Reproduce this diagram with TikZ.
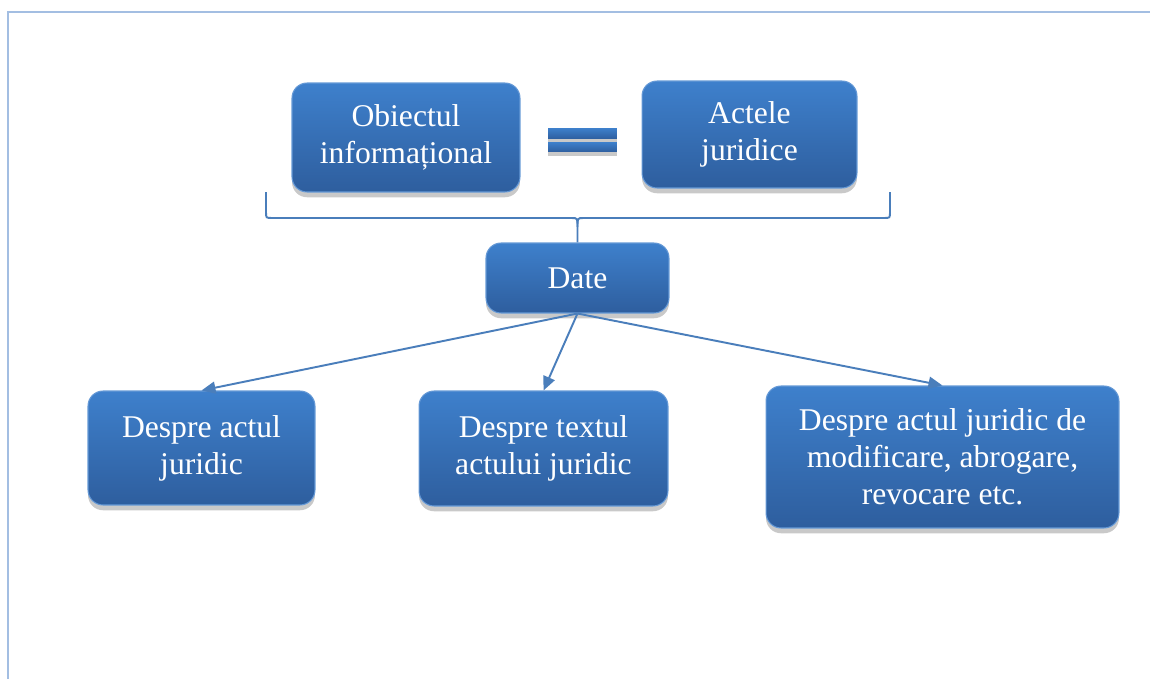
\documentclass[tikz,border=0pt]{standalone}
\usepackage{fontspec}
\setmainfont{Liberation Serif}
\usepackage{xcolor}
\usetikzlibrary{arrows.meta}
\usetikzlibrary{shadows}
\definecolor{boxtop}{HTML}{3E80CC}
\definecolor{boxbot}{HTML}{2E5E9E}
\definecolor{linkblue}{HTML}{4A7EBB}
\definecolor{framebl}{HTML}{A3BEE2}

\begin{document}
\begin{tikzpicture}[
			     x=0.02cm, y=-0.02cm,
			     blockbox/.style={rounded corners=0.3cm, top color=boxtop, bottom color=boxbot,
			       draw=boxtop!80!white, line width=0.6pt, text=white, align=center,
			       font=\fontsize{18}{21}\selectfont, inner sep=2pt,
			       drop shadow={shadow xshift=0pt, shadow yshift=-3pt, opacity=0.3, fill=black!70}},
			     eqbar/.style={top color=boxtop, bottom color=boxbot, draw=none, inner sep=0pt,
			       minimum width=1.38cm,
			       drop shadow={shadow xshift=0pt, shadow yshift=-2pt, opacity=0.3, fill=black!70}},
			     link/.style={-{Triangle[length=0.28cm,width=0.24cm]}, draw=linkblue, line width=1.1pt}
			     ]
\useasboundingbox (0,0) rectangle (1150,679);
\draw[framebl, line width=1.2pt] (1150,12) -- (8,12) -- (8,679);

\node[blockbox, minimum width=4.56cm, minimum height=2.18cm] (obiect) at (406,137.5) {Obiectul\\informațional};
\node[blockbox, minimum width=4.30cm, minimum height=2.14cm] (acte) at (749.5,134.5) {Actele\\juridice};
\node[eqbar, minimum height=0.22cm] (eqtop) at (582.5,133.5) {};
\node[eqbar, minimum height=0.20cm] (eqbot) at (582.5,147) {};

\node[blockbox, minimum width=3.66cm, minimum height=1.40cm] (date) at (577.5,278) {Date};

\coordinate (bracel) at (266,192);
\coordinate (bracer) at (890,192);
\draw[linkblue, line width=1.1pt] (bracel) -- (266,212) .. controls (266,218) .. (272,218) -- (571.5,218)
  .. controls (577.5,218) .. (577.5,227) -- (date.north);
\draw[linkblue, line width=1.1pt] (bracer) -- (890,212) .. controls (890,218) .. (884,218) -- (583.5,218)
  .. controls (577.5,218) .. (577.5,227);

\node[blockbox, minimum width=4.54cm, minimum height=2.28cm] (actul) at (201.5,448) {Despre actul\\juridic};
\node[blockbox, minimum width=4.98cm, minimum height=2.30cm] (textul) at (543.5,448.5) {Despre textul\\actului juridic};
\node[blockbox, minimum width=7.06cm, minimum height=2.84cm] (modif) at (942.5,457) {Despre actul juridic de\\modificare, abrogare,\\revocare etc.};

\path (date.south) edge[link] (actul.north);
\path (date.south) edge[link] (textul.north);
\path (date.south) edge[link] (modif.north);
\end{tikzpicture}
\end{document}
